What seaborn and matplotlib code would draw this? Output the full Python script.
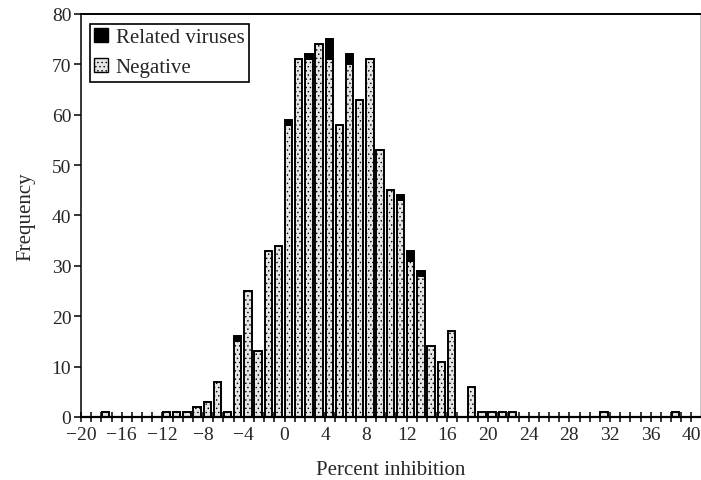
import numpy as np
import pandas as pd
import matplotlib
matplotlib.use('Agg')
import matplotlib.pyplot as plt
from matplotlib.patches import Patch
from matplotlib.ticker import MultipleLocator
import seaborn as sns

# Bins (left edge, percent inhibition) and counts
bins = [-18, -12, -11, -10, -9, -8, -7, -6, -5, -4, -3, -2, -1, 0, 1, 2, 3, 4,
        5, 6, 7, 8, 9, 10, 11, 12, 13, 14, 15, 16, 18, 19, 20, 21, 22, 31, 38]
negative = [1, 1, 1, 1, 2, 3, 7, 1, 15, 25, 13, 33, 34, 58, 71, 71, 74, 71,
            58, 70, 63, 71, 53, 45, 43, 31, 28, 14, 11, 17, 6, 1, 1, 1, 1, 1, 1]
related_bins = [-5, 0, 2, 4, 6, 11, 12, 13]
related = [1, 1, 1, 4, 2, 1, 2, 1]

groups = ['Related viruses', 'Negative']
colors = {'Related viruses': 'black', 'Negative': '#e6e6e6'}
stipple = '....'

sns.set_theme(style='ticks')
plt.rcParams['font.family'] = ['Liberation Serif', 'DejaVu Serif']
plt.rcParams['hatch.linewidth'] = 0.5

df = pd.concat([
    pd.DataFrame({'inhibition': np.array(bins) + 0.5, 'count': negative, 'group': 'Negative'}),
    pd.DataFrame({'inhibition': np.array(related_bins) + 0.5, 'count': related, 'group': 'Related viruses'}),
], ignore_index=True)

fig, ax = plt.subplots(figsize=(7.01, 4.81), dpi=100)
fig.subplots_adjust(left=0.1156, right=0.998, bottom=0.131, top=0.969)

edges = [b - 0.1 for b in range(-18, 40)]
sns.histplot(data=df, x='inhibition', weights='count', hue='group', hue_order=groups,
             multiple='stack', bins=edges, shrink=0.72, palette=colors,
             edgecolor='black', linewidth=1.4, alpha=1, legend=False, ax=ax)

# drop empty bins, add the stipple fill on the negative bars
for p in list(ax.patches):
    if p.get_height() == 0:
        p.remove()
    elif p.get_facecolor()[0] > 0.5:
        p.set_hatch(stipple)

ax.set_xlim(-20, 40.8)
ax.set_ylim(0, 80)
ax.xaxis.set_major_locator(MultipleLocator(4))
ax.xaxis.set_minor_locator(MultipleLocator(1))
ax.yaxis.set_major_locator(MultipleLocator(10))
ax.tick_params(axis='x', which='both', direction='inout', length=7, width=1.1,
               labelsize=14, pad=3, color='black')
ax.tick_params(axis='y', direction='out', length=5, width=1.1, labelsize=14,
               pad=2, color='black')

for side in ['left', 'top', 'bottom']:
    ax.spines[side].set_visible(True)
    ax.spines[side].set_color('black')
ax.spines['bottom'].set_linewidth(1.6)
ax.spines['left'].set_linewidth(1.1)
ax.spines['top'].set_linewidth(1.4)
ax.spines['right'].set_visible(True)
ax.spines['right'].set_color('#bbbbbb')
ax.spines['right'].set_linewidth(0.6)

ax.set_xlabel('Percent inhibition', fontsize=15, labelpad=12)
ax.set_ylabel('Frequency', fontsize=15, labelpad=12)

handles = [Patch(facecolor='black', edgecolor='black', label='Related viruses'),
           Patch(facecolor=colors['Negative'], edgecolor='black', hatch=stipple,
                 label='Negative')]
leg = ax.legend(handles=handles, loc='upper left', bbox_to_anchor=(0.014, 0.976),
                fontsize=15, frameon=True, fancybox=False, framealpha=1,
                edgecolor='black', handlelength=0.7, handleheight=0.7,
                handletextpad=0.35, labelspacing=0.5, borderpad=0.2,
                borderaxespad=0)
leg.get_frame().set_linewidth(1.2)

fig.savefig('out.png', dpi=100)
